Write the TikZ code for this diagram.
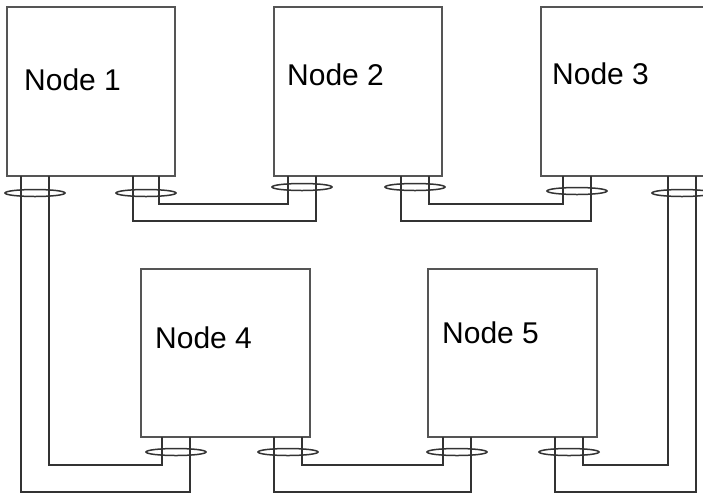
\documentclass[tikz,border=0pt]{standalone}
\usepackage{fontspec}
\setmainfont{Liberation Sans}
\usetikzlibrary{calc}
\definecolor{boxc}{HTML}{555555}
\definecolor{wirec}{HTML}{333333}
\tikzset{
  box/.style={draw=boxc, line width=1.4pt, rectangle, outer sep=0pt, inner sep=0pt, minimum width=168pt, minimum height=169pt},
  lbl/.style={anchor=base west, inner sep=0pt, font=\fontsize{30}{36}\selectfont},
  wire/.style={draw=wirec, line width=1.3pt},
  ring/.style={draw=wirec, line width=1.5pt}
}
\begin{document}
\begin{tikzpicture}[x=1pt, y=-1pt]
\useasboundingbox (0,0) rectangle (703,493);
\clip (0,0) rectangle (703,493);
% boxes
\node[box] (n1) at (91,91.5) {};
\node[box] (n2) at (358,91.5) {};
\node[box] (n3) at (625,91.5) {};
\node[box, minimum width=169pt, minimum height=168pt] (n4) at (225.5,353) {};
\node[box, minimum width=169pt, minimum height=168pt] (n5) at (512.5,353) {};
% labels
\node[lbl] (t1) at (24,90) {Node 1};
\node[lbl] (t2) at (287,85) {Node 2};
\node[lbl] (t3) at (552,84) {Node 3};
\node[lbl] (t4) at (155,348) {Node 4};
\node[lbl] (t5) at (442,343) {Node 5};
% ports
\coordinate (n1p1) at ($(n1.south west)+(14,0)$);
\coordinate (n1p2) at ($(n1.south west)+(42,0)$);
\coordinate (n1p3) at ($(n1.south west)+(126,0)$);
\coordinate (n1p4) at ($(n1.south west)+(152,0)$);
\coordinate (n2p1) at ($(n2.south west)+(14,0)$);
\coordinate (n2p2) at ($(n2.south west)+(42,0)$);
\coordinate (n2p3) at ($(n2.south west)+(127,0)$);
\coordinate (n2p4) at ($(n2.south west)+(155,0)$);
\coordinate (n3p1) at ($(n3.south west)+(22,0)$);
\coordinate (n3p2) at ($(n3.south west)+(50,0)$);
\coordinate (n3p3) at ($(n3.south west)+(127,0)$);
\coordinate (n3p4) at ($(n3.south west)+(155,0)$);
\coordinate (n4p1) at ($(n4.south west)+(21,0)$);
\coordinate (n4p2) at ($(n4.south west)+(49,0)$);
\coordinate (n4p3) at ($(n4.south west)+(133,0)$);
\coordinate (n4p4) at ($(n4.south west)+(161,0)$);
\coordinate (n5p1) at ($(n5.south west)+(15,0)$);
\coordinate (n5p2) at ($(n5.south west)+(43,0)$);
\coordinate (n5p3) at ($(n5.south west)+(127,0)$);
\coordinate (n5p4) at ($(n5.south west)+(155,0)$);
% levels
\coordinate (yA) at (0,204);
\coordinate (yB) at (0,221);
\coordinate (yC) at (0,465);
\coordinate (yD) at (0,492);
% wires
\draw[wire] (n1p4) -- (n1p4 |- yA) -| (n2p1);
\draw[wire] (n1p3) -- (n1p3 |- yB) -| (n2p2);
\draw[wire] (n2p4) -- (n2p4 |- yA) -| (n3p1);
\draw[wire] (n2p3) -- (n2p3 |- yB) -| (n3p2);
\draw[wire] (n1p2) -- (n1p2 |- yC) -| (n4p1);
\draw[wire] (n1p1) -- (n1p1 |- yD) -| (n4p2);
\draw[wire] (n4p4) -- (n4p4 |- yC) -| (n5p1);
\draw[wire] (n4p3) -- (n4p3 |- yD) -| (n5p2);
\draw[wire] (n5p4) -- (n5p4 |- yC) -| (n3p3);
\draw[wire] (n5p3) -- (n5p3 |- yD) -| (n3p4);
% rings
\draw[ring] ($(n1p1)!0.5!(n1p2)+(0,17)$) ellipse [x radius=30pt, y radius=3.5pt];
\draw[ring] ($(n1p3)!0.5!(n1p4)+(0,17)$) ellipse [x radius=30pt, y radius=3.5pt];
\draw[ring] ($(n2p1)!0.5!(n2p2)+(0,11)$) ellipse [x radius=30pt, y radius=3.5pt];
\draw[ring] ($(n2p3)!0.5!(n2p4)+(0,11)$) ellipse [x radius=30pt, y radius=3.5pt];
\draw[ring] ($(n3p1)!0.5!(n3p2)+(0,15)$) ellipse [x radius=30pt, y radius=3.5pt];
\draw[ring] ($(n3p3)!0.5!(n3p4)+(0,17)$) ellipse [x radius=30pt, y radius=3.5pt];
\draw[ring] ($(n4p1)!0.5!(n4p2)+(0,15)$) ellipse [x radius=30pt, y radius=3.5pt];
\draw[ring] ($(n4p3)!0.5!(n4p4)+(0,15)$) ellipse [x radius=30pt, y radius=3.5pt];
\draw[ring] ($(n5p1)!0.5!(n5p2)+(0,15)$) ellipse [x radius=30pt, y radius=3.5pt];
\draw[ring] ($(n5p3)!0.5!(n5p4)+(0,15)$) ellipse [x radius=30pt, y radius=3.5pt];
\end{tikzpicture}
\end{document}
